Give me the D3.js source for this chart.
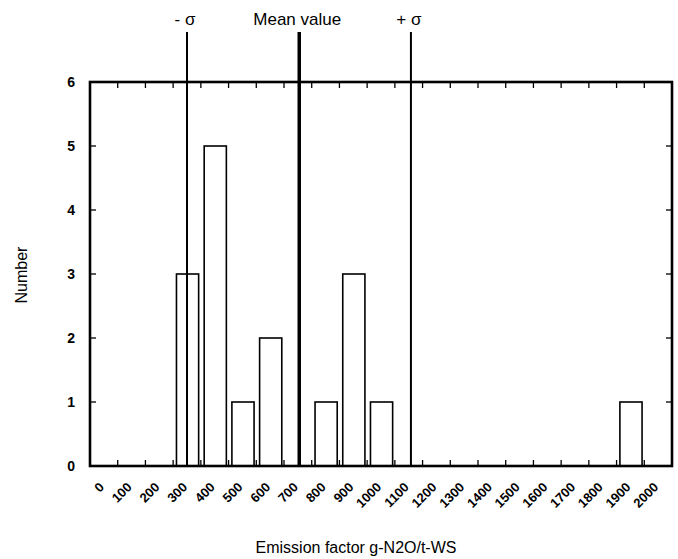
<!DOCTYPE html>
<html><head><meta charset="utf-8">
<script src="https://cdn.jsdelivr.net/npm/d3@7"></script>
<style>body{margin:0;background:#fff}svg{display:block}text{font-family:"Liberation Sans",Arial,sans-serif;fill:#000}</style>
</head><body>
<script>
const categories = ["0","100","200","300","400","500","600","700","800","900","1000","1100","1200","1300","1400","1500","1600","1700","1800","1900","2000"];
const counts =     [0,0,0,3,5,1,2,0,1,3,1,0,0,0,0,0,0,0,0,1,0];
const yTicks = [0,1,2,3,4,5,6];
const refLabels = ["- σ","Mean value","+ σ"];
const refValues = [300, 705, 1108];
const refWidths = [2, 3.5, 2];

const W=678,H=559, L=90, R=672, T=82, B=466;
const svg=d3.select("body").append("svg").attr("width",W).attr("height",H);
const x=d3.scaleBand().domain(categories).range([L,R]).padding(0);
const bw=x.bandwidth();
const xv=d3.scaleLinear().domain([0,2000]).range([x("0")+bw/2, x("2000")+bw/2]);
const y=d3.scaleLinear().domain([0,6]).range([B,T]);

// bars
svg.selectAll("rect.bar").data(categories.map((c,i)=>({c,v:counts[i]})).filter(d=>d.v>0))
 .enter().append("rect").attr("class","bar")
 .attr("x",d=>x(d.c)+bw*0.12).attr("width",bw*0.8)
 .attr("y",d=>y(d.v)).attr("height",d=>y(0)-y(d.v))
 .attr("fill","#fff").attr("stroke","#000").attr("stroke-width",1.6);

// inner ticks at band boundaries, top & bottom
const bounds=categories.slice(1).map(c=>x(c));
svg.selectAll("line.tb").data(bounds).enter().append("line")
 .attr("x1",d=>d).attr("x2",d=>d).attr("y1",B).attr("y2",B-6).attr("stroke","#000").attr("stroke-width",1.3);
svg.selectAll("line.tt").data(bounds).enter().append("line")
 .attr("x1",d=>d).attr("x2",d=>d).attr("y1",T).attr("y2",T+6).attr("stroke","#000").attr("stroke-width",1.3);
// y ticks left & right
svg.selectAll("line.yl").data(yTicks).enter().append("line")
 .attr("x1",L).attr("x2",L+6).attr("y1",d=>y(d)).attr("y2",d=>y(d)).attr("stroke","#000").attr("stroke-width",1.3);
svg.selectAll("line.yr").data(yTicks).enter().append("line")
 .attr("x1",R).attr("x2",R-6).attr("y1",d=>y(d)).attr("y2",d=>y(d)).attr("stroke","#000").attr("stroke-width",1.3);

// frame
svg.append("rect").attr("x",L).attr("y",T).attr("width",R-L).attr("height",B-T)
 .attr("fill","none").attr("stroke","#000").attr("stroke-width",2.6);

// reference lines
refValues.forEach((v,i)=>{
  svg.append("line").attr("x1",xv(v)).attr("x2",xv(v)).attr("y1",32).attr("y2",B)
   .attr("stroke","#000").attr("stroke-width",refWidths[i]);
  svg.append("text").attr("x",xv(v)-2).attr("y",25).attr("text-anchor","middle")
   .attr("font-size",17).text(refLabels[i]);
});

// y tick labels
svg.selectAll("text.yl").data(yTicks).enter().append("text")
 .attr("x",75).attr("y",d=>y(d)+5).attr("text-anchor","end")
 .attr("font-size",14).attr("font-weight","bold").text(d=>d);

// x tick labels
svg.selectAll("text.xl").data(categories).enter().append("text")
 .attr("transform",c=>`translate(${x(c)+bw/2+1},${B+22}) rotate(-45)`)
 .attr("text-anchor","end").attr("font-size",13).attr("font-weight","bold").text(c=>c);

// axis titles
svg.append("text").attr("x",356).attr("y",553).attr("text-anchor","middle").attr("font-size",16)
 .text("Emission factor g-N2O/t-WS");
svg.append("text").attr("transform","translate(27,275) rotate(-90)").attr("text-anchor","middle")
 .attr("font-size",16).text("Number");
</script>
</body></html>
